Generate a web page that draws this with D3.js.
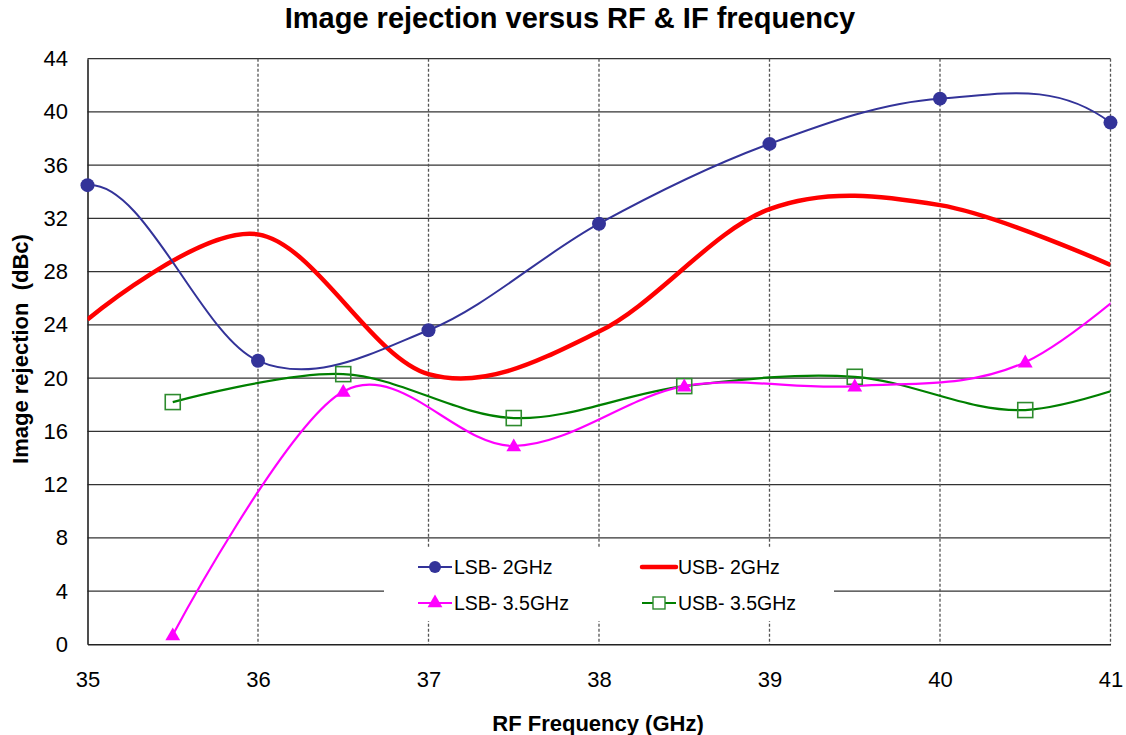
<!DOCTYPE html>
<html><head><meta charset="utf-8">
<script src="https://cdn.jsdelivr.net/npm/d3@7"></script>
<style>body{margin:0;background:#fff}svg{display:block;font-family:"Liberation Sans",Arial,sans-serif}</style>
</head><body><svg id="c" width="1126" height="735"></svg>
<script>
const xTicks = [35,36,37,38,39,40,41];
const yTicks = [0,4,8,12,16,20,24,28,32,36,40,44];
// points outside 35..41 lie beyond the axis range: they only shape the clipped curves
const lsb2X = [34,35,36,37,38,39,40,41,42];
const lsb2Y = [19.0,34.5,21.3,23.6,31.6,37.6,41.0,39.2,21.8];
const usb2X = [35,36,37,38,39,40,41];
const usb2Y = [24.4,30.8,20.3,23.5,32.7,33.0,28.5];
const lsb35X = [35.5,36.5,37.5,38.5,39.5,40.5,41.5];
const lsb35Y = [0.7,19.0,14.9,19.4,19.4,21.2,31.2];
const usb35X = [35.5,36.5,37.5,38.5,39.5,40.5,41.5];
const usb35Y = [18.2,20.3,17.0,19.4,20.1,17.6,21.3];
const legendLabels = ["LSB- 2GHz","USB- 2GHz","LSB- 3.5GHz","USB- 3.5GHz"];

const svg = d3.select("#c");
const L=87.5, R=1110.5, T=58.7, B=644.3;
const x = d3.scaleLinear().domain([35,41]).range([L,R]);
const y = d3.scaleLinear().domain([0,44]).range([B,T]);

svg.append("defs").append("clipPath").attr("id","plot")
  .append("rect").attr("x",L).attr("y",T-10).attr("width",R-L).attr("height",B-T+10);

// grid
svg.append("g").selectAll("line").data(yTicks.filter(d=>d>0)).join("line")
  .attr("x1",L).attr("x2",R).attr("y1",d=>y(d)).attr("y2",d=>y(d))
  .attr("stroke","#333").attr("stroke-width",1.3);
svg.append("g").selectAll("line").data(xTicks.filter(d=>d>35)).join("line")
  .attr("x1",d=>x(d)).attr("x2",d=>x(d)).attr("y1",T).attr("y2",B)
  .attr("stroke","#555").attr("stroke-width",1.3).attr("stroke-dasharray","3,2");

// axes
const yAxis = svg.append("g").attr("transform",`translate(${L},0)`)
  .call(d3.axisLeft(y).tickValues(yTicks).tickSize(0).tickPadding(19.5).tickFormat(d3.format("d")));
const xAxis = svg.append("g").attr("transform",`translate(0,${B})`)
  .call(d3.axisBottom(x).tickValues(xTicks).tickSize(0).tickPadding(27).tickFormat(d3.format("d")));
[yAxis,xAxis].forEach(a=>{
  a.attr("font-size",22).attr("font-family","Liberation Sans, Arial, sans-serif");
  a.select(".domain").attr("stroke","#222").attr("stroke-width",1.6);
  a.selectAll("text").attr("fill","#000");
});

// series
const curve = d3.curveCatmullRom.alpha(0);
const mk = (xs,ys)=>xs.map((v,i)=>[v,ys[i]]);
const inRange = d=>d[0]>=35 && d[0]<=41;
const line = d3.line().x(d=>x(d[0])).y(d=>y(d[1])).curve(curve);
const s1 = mk(lsb2X,lsb2Y), s2 = mk(usb2X,usb2Y), s3 = mk(lsb35X,lsb35Y), s4 = mk(usb35X,usb35Y);

const lines = svg.append("g").attr("clip-path","url(#plot)");
lines.append("path").attr("d",line(s2)).attr("fill","none").attr("stroke","#ff0000").attr("stroke-width",4.5);
lines.append("path").attr("d",line(s4)).attr("fill","none").attr("stroke","#008000").attr("stroke-width",2.2);
lines.append("path").attr("d",line(s3)).attr("fill","none").attr("stroke","#ff00ff").attr("stroke-width",2.2);
lines.append("path").attr("d",line(s1)).attr("fill","none").attr("stroke","#333399").attr("stroke-width",2);

const tri = d3.symbol().type(d3.symbolTriangle).size(95);
svg.append("g").selectAll("rect").data(s4.filter(inRange)).join("rect")
  .attr("x",d=>x(d[0])-7.5).attr("y",d=>y(d[1])-7.5).attr("width",15).attr("height",15)
  .attr("fill","none").attr("stroke","#2e8b2e").attr("stroke-width",1.6);
svg.append("g").selectAll("path").data(s3.filter(inRange)).join("path")
  .attr("d",tri).attr("transform",d=>`translate(${x(d[0])},${y(d[1])+1})`).attr("fill","#ff00ff");
svg.append("g").selectAll("circle").data(s1.filter(inRange)).join("circle")
  .attr("cx",d=>x(d[0])).attr("cy",d=>y(d[1])).attr("r",7).attr("fill","#333399");

// legend
const lg = svg.append("g");
lg.append("rect").attr("x",384).attr("y",548).attr("width",450).attr("height",73).attr("fill","#fff");
const items = [
  {t:legendLabels[0],c:"#333399",w:2,m:"circle",lx:418,ly:567},
  {t:legendLabels[1],c:"#ff0000",w:4.5,m:null,lx:642,ly:567},
  {t:legendLabels[2],c:"#ff00ff",w:2,m:"tri",lx:418,ly:603},
  {t:legendLabels[3],c:"#008000",w:2,m:"sq",lx:642,ly:603}
];
items.forEach(it=>{
  lg.append("line").attr("x1",it.lx).attr("x2",it.lx+34).attr("y1",it.ly).attr("y2",it.ly)
    .attr("stroke",it.c).attr("stroke-width",it.w).attr("stroke-linecap",it.m?"butt":"round");
  const cx = it.lx+17;
  if(it.m==="circle") lg.append("circle").attr("cx",cx).attr("cy",it.ly).attr("r",6).attr("fill",it.c);
  if(it.m==="tri") lg.append("path").attr("d",tri).attr("transform",`translate(${cx},${it.ly})`).attr("fill",it.c);
  if(it.m==="sq") lg.append("rect").attr("x",cx-6).attr("y",it.ly-6).attr("width",12).attr("height",12).attr("fill","#fff").attr("stroke","#2e8b2e").attr("stroke-width",1.4);
  lg.append("text").attr("x",it.lx+36).attr("y",it.ly+7).attr("font-size",19.5).attr("fill","#000").text(it.t);
});

// titles
svg.append("text").attr("x",570).attr("y",28).attr("text-anchor","middle")
  .attr("font-size",29).attr("font-weight","bold").text("Image rejection versus RF & IF frequency");
svg.append("text").attr("transform","translate(28,349) rotate(-90)").attr("text-anchor","middle")
  .style("white-space","pre").attr("font-size",22).attr("font-weight","bold").text("Image rejection  (dBc)");
svg.append("text").attr("x",598).attr("y",731).attr("text-anchor","middle")
  .attr("font-size",22).attr("font-weight","bold").text("RF Frequency (GHz)");
</script></body></html>
